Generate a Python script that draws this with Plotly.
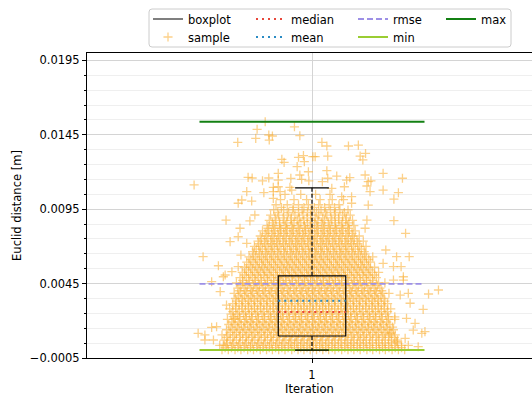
import plotly.graph_objects as go

# ---------------- data ----------------
iteration = 1

# summary statistics of the Euclid distance (m)
stat_q1 = 0.00098
stat_median = 0.0026
stat_q3 = 0.00502
stat_mean = 0.00334
stat_rmse = 0.00448
stat_min = 0.00003
stat_max = 0.01538
whisker_low = 0.00003
whisker_high = 0.01094

# individual samples: sparse outer points (x jitter in 1/1000 iteration, distance in mm)
outer_dx = [-104, -39, -122, -96, -88, -27, -125, -95, -165, -67, -62, -30, -19, -17, 2, -33, -8, -27,
            -75, -142, -133, -110, -96, -75, -47, -23, -7, -262, -145, -107, -86, -75, -49, -86, -71, -45,
            22, 33, 81, 103, 7, 35, 107, 119, 113, 33, 35, 23, 55, 77, 84, 118, 125, 131, 158, 201, 72, 44,
            122, 158, 192, 129,
            -164, -156, -134, -86, -191, -138, -127, -160, -182, -164, -145, -242, -208, -193, -178, -164, -158,
            182, 182, 208, 216, 188, 164, 198, 181, 158, 122, 118, 125, 88, 66, 88, 203,
            -253, -238, -238, -219, -223, -212, -197, -190, -204, -223, -197, -171,
            281, 259, 247, 244, 251, 236, 229, 225, 214, 203, 181, 218, 196, 184, 207, 188, 173, 210]
outer_mm = [15.38, 15.04, 14.87, 14.49, 14.42, 14.44, 14.26, 14.15, 13.99, 12.85, 12.65, 12.99, 13.10, 12.70,
            13.03, 12.36, 12.02, 11.80, 11.91, 11.64, 11.60, 11.41, 11.60, 11.46, 11.57, 11.51, 11.41, 11.13,
            10.68, 10.61, 10.97, 11.01, 10.97, 10.68, 10.68, 10.79,
            13.99, 13.75, 13.75, 13.81, 13.03, 13.07, 13.07, 13.25, 12.81, 12.09, 11.58, 11.35, 11.73, 11.46,
            11.62, 11.80, 11.35, 11.41, 11.91, 11.58, 11.01, 10.90, 11.06, 10.79, 10.61, 10.68,
            9.90, 10.12, 10.05, 10.23, 8.77, 8.71, 9.11, 8.22, 7.32, 7.65, 7.21, 6.31, 5.70, 5.08, 5.30, 5.64, 6.42,
            10.18, 8.73, 7.88, 6.31, 6.31, 6.76, 5.64, 5.64, 5.86, 8.77, 8.22, 9.78, 9.90, 10.34, 10.34, 4.96,
            1.16, 1.05, 0.71, 0.71, 1.56, 1.60, 0.37, 3.06, 3.96, 4.63, 4.96, 2.17,
            4.07, 3.80, 2.77, 1.16, 1.27, 0.26, 1.83, 1.38, 3.85, 4.74, 4.74, 3.18, 3.73, 2.27, 0.82, 0.60, 1.16, 2.17]

# dense core of samples, listed row by row (distance in mm, x jitter in 1/1000 iteration)
core_mm = [0.05, 0.2, 0.35, 0.52, 0.7, 0.88, 1.05, 1.22, 1.4, 1.58, 1.75, 1.92, 2.1, 2.28, 2.45, 2.62,
           2.8, 2.98, 3.15, 3.32, 3.5, 3.68, 3.85, 4.02, 4.2, 4.38, 4.55, 4.72, 4.9, 5.08, 5.25, 5.42,
           5.6, 5.78, 5.95, 6.12, 6.3, 6.48, 6.65, 6.82, 7.0, 7.18, 7.35, 7.52, 7.7, 7.88, 8.05, 8.22,
           8.4, 8.58, 8.75, 8.92, 9.1, 9.28, 9.45, 9.62, 9.8, 10.15, 10.5]
core_dx = [
    [-200, -186, -171, -158, -143, -130, -115, -101, -88, -74, -60, -45, -31, -18, -4, 10, 24, 37, 51, 66, 80, 93, 107, 122, 135, 150, 163, 178, 192, 206],
    [-193, -179, -165, -151, -137, -123, -109, -95, -81, -67, -53, -39, -25, -11, 3, 17, 31, 45, 59, 73, 87, 101, 115, 129, 143, 157, 171, 185, 199],
    [-205, -190, -177, -163, -149, -136, -121, -108, -94, -80, -67, -52, -39, -25, -11, 3, 17, 30, 44, 58, 73, 86, 100, 114, 128, 143, 156, 170, 184, 199, 214],
    [-188, -174, -160, -146, -132, -118, -104, -90, -76, -62, -48, -34, -20, -6, 8, 22, 36, 50, 64, 78, 92, 106, 120, 134, 148, 162, 176, 190],
    [-195, -182, -168, -154, -141, -127, -113, -99, -86, -72, -58, -45, -31, -17, -3, 11, 24, 38, 52, 66, 80, 94, 108, 121, 135, 149, 163, 177, 190],
    [-190, -176, -161, -147, -134, -120, -106, -92, -79, -65, -51, -38, -24, -10, 4, 18, 31, 45, 59, 73, 87, 101, 114, 128, 142, 156, 170, 183],
    [-200, -187, -172, -159, -145, -131, -117, -104, -90, -76, -62, -49, -35, -21, -7, 6, 20, 34, 48, 61, 75, 89, 103, 116, 130, 144, 158, 171, 185],
    [-182, -168, -154, -140, -127, -113, -99, -85, -72, -58, -44, -30, -17, -3, 11, 25, 38, 52, 66, 80, 93, 107, 121, 135, 148, 162, 176],
    [-190, -176, -162, -149, -135, -121, -107, -94, -80, -66, -52, -39, -25, -11, 3, 16, 30, 44, 58, 71, 85, 99, 113, 126, 140, 154, 168, 181],
    [-180, -166, -152, -138, -124, -111, -97, -83, -69, -56, -42, -28, -14, 0, 13, 27, 41, 55, 69, 82, 96, 110, 124, 137, 151, 165, 179],
    [-185, -171, -157, -143, -130, -116, -102, -88, -75, -61, -47, -33, -20, -6, 8, 22, 35, 49, 63, 77, 90, 104, 118, 132, 145, 159, 173],
    [-178, -164, -150, -137, -123, -109, -95, -82, -68, -54, -40, -27, -13, 1, 15, 28, 42, 56, 70, 83, 97, 111, 125, 138, 152, 166],
    [-188, -174, -160, -146, -133, -119, -105, -91, -78, -64, -50, -36, -23, -9, 5, 19, 32, 46, 60, 74, 87, 101, 115, 129, 142, 156, 170, 184],
    [-175, -161, -147, -134, -120, -106, -92, -79, -65, -51, -37, -24, -10, 4, 18, 31, 45, 59, 73, 86, 100, 114, 128, 141, 155, 169],
    [-180, -166, -152, -139, -125, -111, -97, -84, -70, -56, -42, -29, -15, -1, 13, 26, 40, 54, 68, 81, 95, 109, 123, 136, 150, 164],
    [-176, -162, -148, -134, -121, -107, -93, -79, -66, -52, -38, -24, -11, 3, 17, 31, 44, 58, 72, 86, 99, 113, 127, 141, 154, 168],
    [-183, -169, -155, -141, -128, -114, -100, -86, -73, -59, -45, -31, -18, -4, 10, 24, 37, 51, 65, 79, 92, 106, 120, 134, 147, 161, 175],
    [-170, -156, -142, -128, -115, -101, -87, -73, -60, -46, -32, -18, -5, 9, 23, 37, 50, 64, 78, 92, 105, 119, 133, 147, 160],
    [-176, -162, -148, -135, -121, -107, -93, -80, -66, -52, -38, -25, -11, 3, 17, 30, 44, 58, 72, 85, 99, 113, 127, 140, 154, 168],
    [-168, -154, -140, -127, -113, -99, -85, -72, -58, -44, -30, -17, -3, 11, 25, 38, 52, 66, 80, 93, 107, 121, 135, 148, 162],
    [-170, -156, -142, -129, -115, -101, -87, -74, -60, -46, -32, -19, -5, 9, 23, 36, 50, 64, 78, 91, 105, 119, 133, 146, 160],
    [-164, -150, -136, -122, -109, -95, -81, -67, -54, -40, -26, -12, 1, 15, 29, 43, 56, 70, 84, 98, 111, 125, 139, 153],
    [-173, -159, -145, -132, -118, -104, -90, -77, -63, -49, -35, -22, -8, 6, 20, 33, 47, 61, 75, 88, 102, 116, 130, 143, 157, 171],
    [-162, -148, -134, -121, -107, -93, -79, -66, -52, -38, -24, -11, 3, 17, 31, 44, 58, 72, 86, 99, 113, 127, 141, 155],
    [-165, -151, -137, -124, -110, -96, -82, -69, -55, -41, -27, -14, 0, 14, 28, 41, 55, 69, 83, 96, 110, 124, 138, 151],
    [-158, -144, -130, -117, -103, -89, -75, -62, -48, -34, -20, -7, 7, 21, 35, 48, 62, 76, 90, 103, 117, 131, 145],
    [-168, -154, -140, -127, -113, -99, -85, -72, -58, -44, -30, -17, -3, 11, 25, 38, 52, 66, 80, 93, 107, 121, 135, 148, 162],
    [-154, -140, -126, -113, -99, -85, -71, -58, -44, -30, -16, -3, 11, 25, 39, 52, 66, 80, 94, 107, 121, 135],
    [-160, -146, -132, -119, -105, -91, -77, -64, -50, -36, -22, -9, 5, 19, 33, 46, 60, 74, 88, 101, 115, 129, 143],
    [-150, -136, -122, -108, -95, -81, -67, -53, -40, -26, -12, 2, 15, 29, 43, 57, 70, 84, 98, 112, 125, 139],
    [-155, -141, -127, -114, -100, -86, -72, -59, -45, -31, -17, -4, 10, 24, 38, 51, 65, 79, 93, 106, 120, 134, 148],
    [-146, -132, -118, -105, -91, -77, -63, -50, -36, -22, -8, 5, 19, 33, 47, 60, 74, 88, 102, 115, 129],
    [-150, -136, -122, -109, -95, -81, -67, -54, -40, -26, -12, 1, 15, 29, 43, 56, 70, 84, 98, 111, 125, 139],
    [-140, -126, -112, -99, -85, -71, -57, -44, -30, -16, -2, 11, 25, 39, 53, 66, 80, 94, 108, 121],
    [-145, -131, -117, -104, -90, -76, -62, -49, -35, -21, -7, 6, 20, 34, 48, 61, 75, 89, 103, 116, 130],
    [-136, -122, -108, -94, -81, -67, -53, -39, -26, -12, 2, 16, 29, 43, 57, 71, 84, 98, 112, 126],
    [-140, -126, -112, -99, -85, -71, -57, -44, -30, -16, -2, 11, 25, 39, 53, 66, 80, 94, 108, 121, 135],
    [-130, -116, -102, -89, -75, -61, -47, -34, -20, -6, 8, 21, 35, 49, 63, 76, 90, 104, 118],
    [-132, -118, -104, -91, -77, -63, -49, -36, -22, -8, 6, 19, 33, 47, 61, 74, 88, 102, 116],
    [-124, -110, -96, -83, -69, -55, -41, -28, -14, 0, 14, 27, 41, 55, 69, 82, 96, 110],
    [-128, -114, -100, -87, -73, -59, -45, -32, -18, -4, 10, 23, 37, 51, 65, 78, 92, 106, 120],
    [-118, -104, -90, -77, -63, -49, -35, -22, -8, 6, 20, 33, 47, 61, 75, 88, 102],
    [-120, -106, -92, -79, -65, -51, -37, -24, -10, 4, 18, 31, 45, 59, 73, 86, 100, 114],
    [-112, -98, -84, -71, -57, -43, -29, -16, -2, 12, 26, 39, 53, 67, 81, 94],
    [-115, -101, -87, -74, -60, -46, -32, -19, -5, 9, 23, 36, 50, 64, 78, 91, 105],
    [-104, -90, -76, -63, -49, -35, -21, -8, 6, 20, 34, 47, 61, 75, 89],
    [-110, -96, -82, -69, -55, -41, -27, -14, 0, 14, 28, 41, 55, 69, 83, 96],
    [-98, -84, -70, -57, -43, -29, -15, -2, 12, 26, 40, 53, 67, 81],
    [-100, -86, -72, -59, -45, -31, -17, -4, 10, 24, 38, 51, 65, 79, 93],
    [-88, -72, -56, -40, -25, -10, 6, 21, 36, 52, 68, 82],
    [-95, -80, -62, -47, -33, -18, -2, 13, 28, 44, 60, 75, 90],
    [-82, -64, -46, -28, -11, 7, 24, 42, 59, 76],
    [-92, -74, -55, -38, -20, -3, 15, 33, 50, 68, 85],
    [-76, -52, -30, -10, 10, 30, 52, 72],
    [-85, -63, -42, -22, -2, 20, 41, 62, 80],
    [-68, -42, -18, 5, 28, 50],
    [-80, -55, -30, -8, 15, 38, 60],
    [-70, -40, -12, 18, 45, 70],
    [-60, -25, 8, 40],
]

x_ticks = [1]

# ---------------- assemble ----------------
sx, sy = [], []
for dx, mm in zip(outer_dx, outer_mm):
    sx.append(iteration + dx / 1000)
    sy.append(mm / 1000)
for mm, row in zip(core_mm, core_dx):
    for dx in row:
        sx.append(iteration + dx / 1000)
        sy.append(mm / 1000)

BOX_W = 0.15
CAP_W = 0.075
REF_HALF = 0.25
FONT = "DejaVu Sans, sans-serif"
SAMPLE_COLOR = "rgba(250,178,60,0.6)"

fig = go.Figure()

fig.add_trace(go.Scatter(
    x=sx, y=sy, mode="markers", name="sample", legend="legend5",
    marker=dict(symbol="cross-thin", size=6.5, color=SAMPLE_COLOR,
                line=dict(width=1.3, color=SAMPLE_COLOR)),
    hoverinfo="skip"))

def hline(val, name, color, width, dash, legend):
    fig.add_trace(go.Scatter(
        x=[iteration - REF_HALF, iteration + REF_HALF], y=[val, val], mode="lines",
        name=name, legend=legend, line=dict(color=color, width=width, dash=dash)))

hline(stat_min, "min", "#9acd32", 2, "solid", "legend7")
hline(stat_max, "max", "#138013", 2, "solid", "legend4")
hline(stat_rmse, "rmse", "#9d90e6", 1.8, "6px,3px", "legend3")

# box
fig.add_trace(go.Scatter(
    x=[iteration - BOX_W / 2, iteration + BOX_W / 2, iteration + BOX_W / 2, iteration - BOX_W / 2, iteration - BOX_W / 2],
    y=[stat_q1, stat_q1, stat_q3, stat_q3, stat_q1], mode="lines", name="boxplot",
    legend="legend", line=dict(color="black", width=1.2)))
fig.add_trace(go.Scatter(
    x=[iteration, iteration, None, iteration, iteration],
    y=[stat_q3, whisker_high, None, stat_q1, whisker_low], mode="lines", showlegend=False,
    line=dict(color="black", width=1.2, dash="4px,2px")))
fig.add_trace(go.Scatter(
    x=[iteration - CAP_W / 2, iteration + CAP_W / 2, None, iteration - CAP_W / 2, iteration + CAP_W / 2],
    y=[whisker_high, whisker_high, None, whisker_low, whisker_low], mode="lines", showlegend=False,
    line=dict(color="black", width=1.2)))
fig.add_trace(go.Scatter(
    x=[iteration - BOX_W / 2, iteration + BOX_W / 2], y=[stat_median, stat_median], mode="lines",
    name="median", legend="legend2", line=dict(color="#e8473a", width=2, dash="2px,4px")))
fig.add_trace(go.Scatter(
    x=[iteration - BOX_W / 2, iteration + BOX_W / 2], y=[stat_mean, stat_mean], mode="lines",
    name="mean", legend="legend6", line=dict(color="#2a8bc4", width=2, dash="2px,4px")))

# ---------------- layout ----------------
W, H = 532, 399
ML, MR, MT, MB = 87, 0, 53, 41
pw, ph = W - ML - MR, H - MT - MB

def px_x(p):
    return (p - ML) / pw

def px_y(p):
    return (H - MB - p) / ph

leg_common = dict(orientation="v", xanchor="left", yanchor="top", bgcolor="rgba(0,0,0,0)",
                  borderwidth=0, font=dict(family=FONT, size=11.5, color="black"))
row1, row2 = px_y(4.5), px_y(22.5)
col1, col2, col3, col4 = px_x(148), px_x(251), px_x(353), px_x(441)

# legend frame
x0, x1, y0, y1 = px_x(149), px_x(511), px_y(47), px_y(9)
rx, ry = 3 / pw, 3 / ph
frame = (f"M{x0+rx},{y1} L{x1-rx},{y1} Q{x1},{y1} {x1},{y1-ry} L{x1},{y0+ry} Q{x1},{y0} {x1-rx},{y0} "
         f"L{x0+rx},{y0} Q{x0},{y0} {x0},{y0+ry} L{x0},{y1-ry} Q{x0},{y1} {x0+rx},{y1} Z")

fig.update_layout(
    width=W, height=H, margin=dict(l=ML, r=MR, t=MT, b=MB, pad=0),
    paper_bgcolor="white", plot_bgcolor="white",
    font=dict(family=FONT, size=11.5, color="black"),
    showlegend=True,
    legend=dict(x=col1, y=row1, **leg_common),
    legend2=dict(x=col2, y=row1, **leg_common),
    legend3=dict(x=col3, y=row1, **leg_common),
    legend4=dict(x=col4, y=row1, **leg_common),
    legend5=dict(x=col1, y=row2, **leg_common),
    legend6=dict(x=col2, y=row2, **leg_common),
    legend7=dict(x=col3, y=row2, **leg_common),
    shapes=[dict(type="path", xref="paper", yref="paper", path=frame,
                 line=dict(color="#cccccc", width=1), fillcolor="white", layer="below")],
    xaxis=dict(range=[0.5, 0.5 + pw / 450], tickmode="array", tickvals=x_ticks,
               ticktext=[str(t) for t in x_ticks], ticks="outside", ticklen=4, tickcolor="black",
               ticklabelstandoff=2,
               showline=True, linecolor="black", linewidth=1, mirror=True,
               showgrid=True, gridcolor="#d4d4d4", gridwidth=1, zeroline=False,
               title=dict(text="Iteration", standoff=4, font=dict(size=11.5))),
    yaxis=dict(range=[-0.0005, 0.0200], tick0=-0.0005, dtick=0.005, tickformat=".4f",
               ticks="outside", ticklen=4, tickcolor="black",
               showline=True, linecolor="black", linewidth=1, mirror=False,
               showgrid=True, gridcolor="#d4d4d4", gridwidth=1, zeroline=False,
               minor=dict(tick0=-0.0005, dtick=0.001, ticks="outside", ticklen=2, tickcolor="black",
                          showgrid=True, gridcolor="#efefef", gridwidth=1),
               title=dict(text="Euclid distance [m]", standoff=5, font=dict(size=11.5))),
)

fig.write_html("out.html")
